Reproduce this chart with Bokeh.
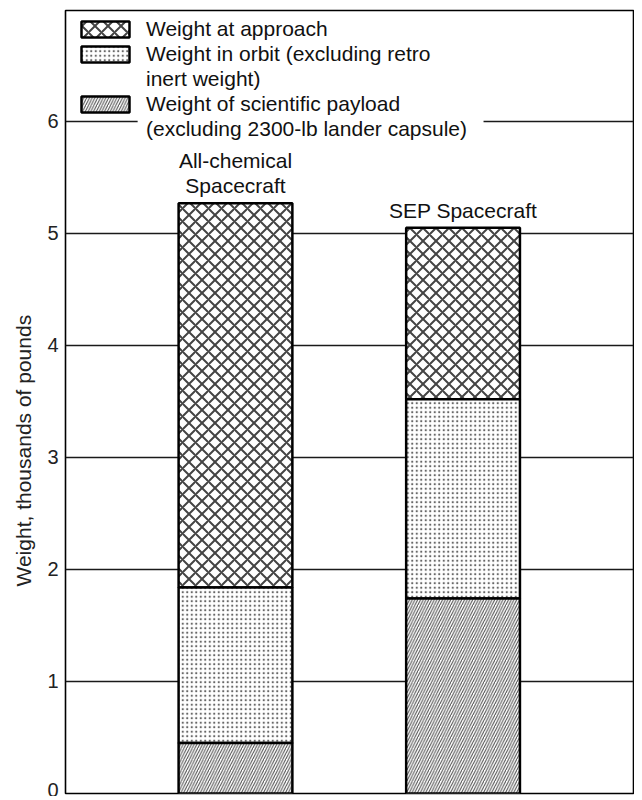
from bokeh.plotting import figure
from bokeh.models import (ColumnDataSource, Legend, LegendItem, BoxAnnotation, Range1d,
                          FixedTicker, Title)
from bokeh.core.properties import value
from bokeh.embed import file_html
from bokeh.resources import INLINE

# ---- data ----
craft_labels = ["All-chemical\nSpacecraft", "SEP Spacecraft"]
craft_pos = [1, 2]
weight_approach = [5.27, 5.05]   # thousands of pounds
weight_orbit = [1.84, 3.52]
weight_payload = [0.45, 1.74]
base = [0, 0]
y_ticks = [0, 1, 2, 3, 4, 5, 6]
series_labels = [
    ["Weight at approach"],
    ["Weight in orbit (excluding retro", "inert weight)"],
    ["Weight of scientific payload", "(excluding 2300-lb lander capsule)"],
]
y_title = "Weight, thousands of pounds"

FONT = "Liberation Sans"

src = ColumnDataSource(dict(x=craft_pos, approach=weight_approach, orbit=weight_orbit,
                            payload=weight_payload, base=base, label=craft_labels))

p = figure(width=634, height=796, output_backend="svg", toolbar_location=None,
           x_range=Range1d(0.253, 2.749), y_range=Range1d(0, 6.99),
           x_axis_location=None,
           min_border_left=65, min_border_right=1, min_border_top=10, min_border_bottom=3)

p.outline_line_color = "black"
p.outline_line_width = 1.6
p.background_fill_color = "white"
p.border_fill_color = "white"

p.xgrid.grid_line_color = None
p.ygrid.grid_line_color = "#1a1a1a"
p.ygrid.grid_line_width = 1.4
p.ygrid.ticker = FixedTicker(ticks=y_ticks)

ax = p.yaxis[0]
ax.ticker = FixedTicker(ticks=y_ticks)
ax.axis_line_color = None
ax.major_tick_line_color = None
ax.minor_tick_line_color = None
ax.major_tick_out = 0
ax.major_tick_in = 0
ax.major_label_text_font = FONT
ax.major_label_text_font_size = "20px"
ax.major_label_text_color = "#222222"
ax.major_label_standoff = 7

p.add_layout(Title(text=y_title, align="left", offset=207, standoff=16,
                   vertical_align="top", text_font=FONT, text_font_size="21px",
                   text_font_style="normal", text_color="#222222"), "left")

common = dict(x="x", width=0.5, source=src, fill_color="white",
              line_color="black", line_width=2.5)

r_app = p.vbar(bottom="orbit", top="approach", hatch_pattern="x", hatch_scale=13,
               hatch_color="#444444", hatch_weight=2, **common)
r_orb = p.vbar(bottom="payload", top="orbit", hatch_pattern=".", hatch_scale=4.5,
               hatch_color="#666666", hatch_weight=1, **common)
r_pay = p.vbar(bottom="base", top="payload", hatch_pattern="/", hatch_scale=5.5,
               hatch_color="#4a4a4a", hatch_weight=1.0, **common)

p.text(x="x", y="approach", text="label", source=src, text_align="center",
       text_baseline="bottom", y_offset=-6, text_font=value(FONT),
       text_font_size="21px", text_color="#111111", text_line_height=1.1)

# white mask behind legend text over the 6 gridline
mask = BoxAnnotation(left=0.57, right=2.09, bottom=5.9, top=6.1,
                     fill_color="white", fill_alpha=1.0, line_alpha=0)
p.add_layout(mask)

renderers = [r_app, r_orb, r_pay]
items = []
for r, lines in zip(renderers, series_labels):
    items.append(LegendItem(label=lines[0], renderers=[r]))
    for extra in lines[1:]:
        items.append(LegendItem(label=extra, renderers=[]))

legend = Legend(items=items, location=(10, 652), padding=2, spacing=0, margin=0,
                glyph_width=60, glyph_height=20, label_standoff=11, label_height=25,
                label_text_font=FONT, label_text_font_size="21px",
                label_text_color="#111111", label_text_line_height=1.2,
                background_fill_alpha=0, border_line_color=None)
p.add_layout(legend)

open("out.html", "w").write(file_html(p, INLINE))
